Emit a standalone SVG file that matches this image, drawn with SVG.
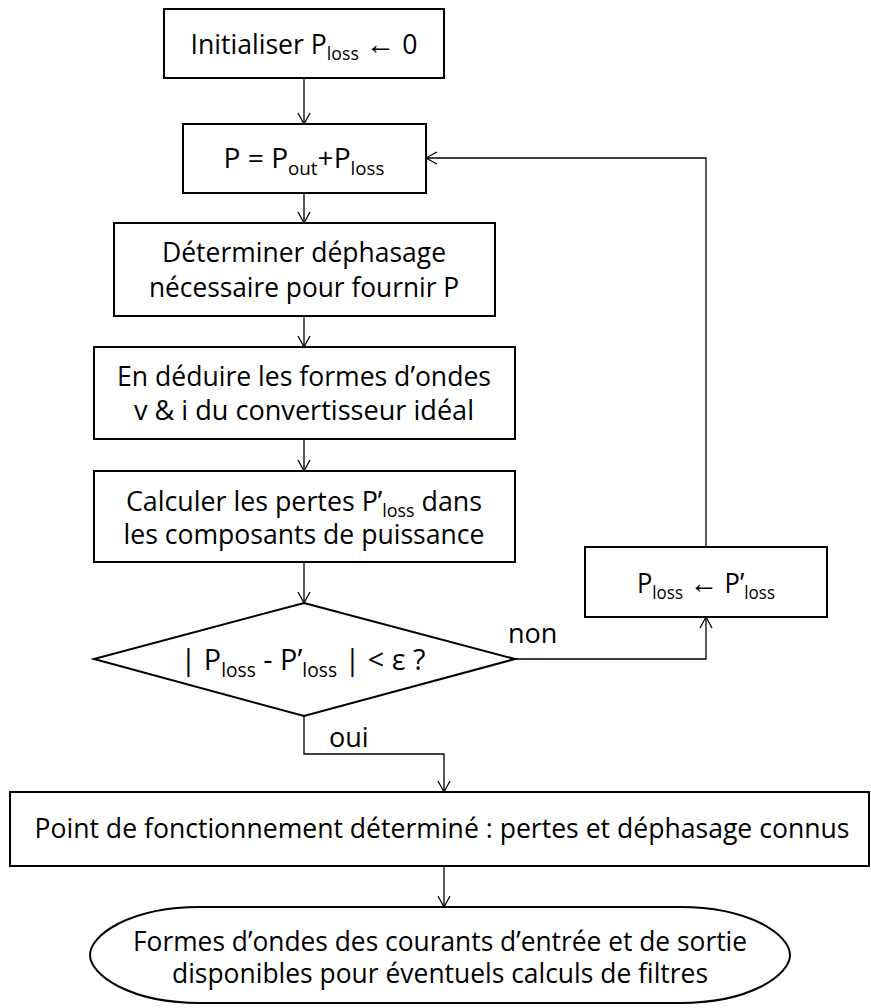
<svg xmlns="http://www.w3.org/2000/svg" width="871" height="1008" viewBox="0 0 871 1008">
<style>
  .box { fill: #fff; stroke: #000; stroke-width: 2; }
  .t { font-family: "Open Sans", "Noto Sans", sans-serif; font-size: 27px; fill: #000; text-anchor: middle; }
  .lbl { font-family: "Open Sans", "Noto Sans", sans-serif; font-size: 27px; fill: #000; }
  .sub { font-size: 18px; }
  .ar { font-family: "Liberation Sans", "DejaVu Sans", sans-serif; font-size: 30px; }
  .c { fill: none; stroke: #000; stroke-width: 1.3; }
</style>
<defs>
  <marker id="arr" markerUnits="userSpaceOnUse" markerWidth="16" markerHeight="16" viewBox="-13 -8 16 16" refX="0" refY="0" orient="auto">
    <path d="M-11,-6 L0,0 L-11,6" fill="none" stroke="#000" stroke-width="1.3"/>
  </marker>
</defs>

<g id="connectors">
  <path class="c" d="M304,78 V124" marker-end="url(#arr)"/>
  <path class="c" d="M304,193 V223" marker-end="url(#arr)"/>
  <path class="c" d="M304,316 V347" marker-end="url(#arr)"/>
  <path class="c" d="M304,439 V471" marker-end="url(#arr)"/>
  <path class="c" d="M304,562 V603" marker-end="url(#arr)"/>
  <path class="c" d="M515,659 H706 V617" marker-end="url(#arr)"/>
  <path class="c" d="M706,547 V158 H426" marker-end="url(#arr)"/>
  <path class="c" d="M304,716 V754 H444 V792" marker-end="url(#arr)"/>
  <path class="c" d="M444,866 V907" marker-end="url(#arr)"/>
  <text class="lbl" x="508" y="643">non</text>
  <text class="lbl" x="329" y="747">oui</text>
</g>

<g id="init">
  <rect class="box" x="164" y="9" width="280" height="69"/>
  <text class="t" x="304" y="54" textLength="227" lengthAdjust="spacingAndGlyphs">Initialiser P<tspan class="sub" dy="6">loss</tspan><tspan dy="-6"> </tspan><tspan class="ar">←</tspan> 0</text>
</g>

<g id="p-sum">
  <rect class="box" x="183" y="124" width="243" height="69"/>
  <text class="t" x="304" y="168" textLength="161" lengthAdjust="spacingAndGlyphs">P = P<tspan class="sub" dy="7">out</tspan><tspan dy="-7">+P</tspan><tspan class="sub" dy="7">loss</tspan></text>
</g>

<g id="dephasage">
  <rect class="box" x="114" y="223" width="381" height="93"/>
  <text class="t" x="304" y="262" textLength="284" lengthAdjust="spacingAndGlyphs">Déterminer déphasage</text>
  <text class="t" x="304" y="297" textLength="310" lengthAdjust="spacingAndGlyphs">nécessaire pour fournir P</text>
</g>

<g id="formes">
  <rect class="box" x="94" y="347" width="421" height="92"/>
  <text class="t" x="304" y="386" textLength="374" lengthAdjust="spacingAndGlyphs">En déduire les formes d’ondes</text>
  <text class="t" x="304" y="420" textLength="340" lengthAdjust="spacingAndGlyphs">v &amp; i du convertisseur idéal</text>
</g>

<g id="pertes">
  <rect class="box" x="94" y="471" width="421" height="91"/>
  <text class="t" x="304" y="511" textLength="356" lengthAdjust="spacingAndGlyphs">Calculer les pertes P’<tspan class="sub" dy="6">loss</tspan><tspan dy="-6"> dans</tspan></text>
  <text class="t" x="304" y="544" textLength="361" lengthAdjust="spacingAndGlyphs">les composants de puissance</text>
</g>

<g id="test">
  <polygon class="box" points="304,603 515,659 304,716 94,659"/>
  <text class="t" x="303" y="670" style="font-size:30px" textLength="245" lengthAdjust="spacingAndGlyphs">| P<tspan class="sub" dy="7" style="font-size:20px">loss</tspan><tspan dy="-7"> - P’</tspan><tspan class="sub" dy="7" style="font-size:20px">loss</tspan><tspan dy="-7"> | &lt; ε ?</tspan></text>
</g>

<g id="update">
  <rect class="box" x="585" y="547" width="242" height="70"/>
  <text class="t" x="706" y="593" textLength="138" lengthAdjust="spacingAndGlyphs">P<tspan class="sub" dy="6">loss</tspan><tspan dy="-6"> </tspan><tspan class="ar">←</tspan> P’<tspan class="sub" dy="6">loss</tspan></text>
</g>

<g id="point">
  <rect class="box" x="10" y="792" width="859" height="74"/>
  <text class="t" x="442" y="838" textLength="815" lengthAdjust="spacingAndGlyphs">Point de fonctionnement déterminé : pertes et déphasage connus</text>
</g>

<g id="fin">
  <path class="box" d="M200,907 H680 C750,907 790,935 790,955 C790,975 750,1003 680,1003 H200 C130,1003 90,975 90,955 C90,935 130,907 200,907 Z"/>
  <text class="t" x="440" y="951" textLength="614" lengthAdjust="spacingAndGlyphs">Formes d’ondes des courants d’entrée et de sortie</text>
  <text class="t" x="440" y="983" textLength="536" lengthAdjust="spacingAndGlyphs">disponibles pour éventuels calculs de filtres</text>
</g>
</svg>
